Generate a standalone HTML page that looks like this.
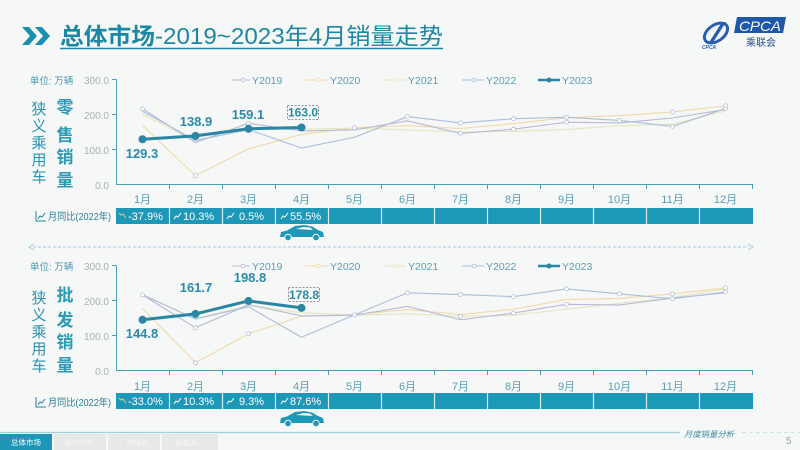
<!DOCTYPE html>
<html><head><meta charset="utf-8"><style>
html,body{margin:0;padding:0;background:#f6f7f7;}
svg{display:block;}
text{font-family:"Liberation Sans","Noto Sans CJK SC",sans-serif;}
</style></head><body>
<svg width="800" height="450" viewBox="0 0 800 450" xmlns="http://www.w3.org/2000/svg">
<rect width="800" height="450" fill="#f6f7f7"/>

<!-- Title -->
<polygon points="22,27 29,27 37,36 29,45 22,45 30,36" fill="#1b8fae"/>
<polygon points="35,27 42,27 50,36 42,45 35,45 43,36" fill="#1b8fae"/>
<text x="60" y="44" font-size="23" font-weight="bold" fill="#1b87a3" textLength="95" lengthAdjust="spacingAndGlyphs">总体市场</text>
<text x="155" y="44" font-size="23" fill="#1b87a3" textLength="288" lengthAdjust="spacingAndGlyphs">-2019~2023年4月销量走势</text>
<line x1="60" y1="48.5" x2="443" y2="48.5" stroke="#1b87a3" stroke-width="1.5"/>

<!-- Logo -->
<ellipse cx="716" cy="33" rx="13" ry="8" fill="none" stroke="#2a5fb0" stroke-width="3" transform="rotate(-35 716 33)"/>
<path d="M708 44 L722 22 L726 22 L712 44 Z" fill="#2a5fb0"/>
<text x="702" y="49" font-size="5" font-weight="bold" font-style="italic" fill="#2a5fb0">CPCA</text>
<polygon points="737,17 786,17 783,33 734,33" fill="#1e56a8"/>
<text x="739" y="31" font-size="14" font-style="italic" fill="#ffffff" textLength="42" lengthAdjust="spacingAndGlyphs">CPCA</text>
<text x="746" y="46" font-size="10" fill="#2a4f8c" textLength="30" lengthAdjust="spacing">乘联会</text>

<!-- ========== TOP CHART ========== -->
<text x="30" y="84" font-size="9.5" fill="#4a9ab2">单位: 万辆</text>
<g font-size="10" fill="#a9b1b4" text-anchor="end">
<text x="109" y="84">300.0</text><text x="109" y="119">200.0</text><text x="109" y="154">100.0</text><text x="109" y="189">0.0</text>
</g>
<g font-size="15" fill="#2a94b0" text-anchor="middle">
<text x="39" y="114">狭</text><text x="39" y="131">义</text><text x="39" y="148">乘</text><text x="39" y="165">用</text><text x="39" y="182">车</text>
</g>
<g font-size="17" font-weight="bold" fill="#2a9ab5" text-anchor="middle">
<text x="65" y="113">零</text><text x="65" y="141">售</text><text x="65" y="163">销</text><text x="65" y="186">量</text>
</g>
<!-- axes -->
<g stroke="#4ba0b6" stroke-width="1">
<line x1="116.5" y1="79.5" x2="116.5" y2="185"/>
<line x1="112" y1="79.5" x2="116.5" y2="79.5"/><line x1="112" y1="114.5" x2="116.5" y2="114.5"/><line x1="112" y1="149.5" x2="116.5" y2="149.5"/>
<line x1="116" y1="184.5" x2="753" y2="184.5"/>
<line x1="169.5" y1="184.5" x2="169.5" y2="189"/><line x1="222.5" y1="184.5" x2="222.5" y2="189"/><line x1="275.5" y1="184.5" x2="275.5" y2="189"/><line x1="328.5" y1="184.5" x2="328.5" y2="189"/><line x1="381.5" y1="184.5" x2="381.5" y2="189"/><line x1="434.5" y1="184.5" x2="434.5" y2="189"/><line x1="487.5" y1="184.5" x2="487.5" y2="189"/><line x1="540.5" y1="184.5" x2="540.5" y2="189"/><line x1="593.5" y1="184.5" x2="593.5" y2="189"/><line x1="646.5" y1="184.5" x2="646.5" y2="189"/><line x1="699.5" y1="184.5" x2="699.5" y2="189"/><line x1="752.5" y1="184.5" x2="752.5" y2="189"/>
</g>
<g font-size="11" fill="#5a9fb5" text-anchor="middle">
<text x="142.5" y="203">1月</text><text x="195.5" y="203">2月</text><text x="248.5" y="203">3月</text><text x="301.5" y="203">4月</text><text x="354.5" y="203">5月</text><text x="407.5" y="203">6月</text><text x="460.5" y="203">7月</text><text x="513.5" y="203">8月</text><text x="566.5" y="203">9月</text><text x="619.5" y="203">10月</text><text x="672.5" y="203">11月</text><text x="725.5" y="203">12月</text>
</g>
<!-- series -->
<g fill="none" stroke-width="1.1">
<polyline stroke="#f2d9a6" points="142.5,125.35 195.5,175.75 248.5,148.8 301.5,134.45 354.5,127.8 407.5,125.7 460.5,128.5 513.5,123.6 566.5,117.65 619.5,115.55 672.5,112.05 725.5,105.75"/>
<polyline stroke="#e3e6bd" points="142.5,114.5 195.5,140.75 248.5,129.55 301.5,129.2 354.5,128.15 407.5,129.9 460.5,132 513.5,131.3 566.5,129.55 619.5,125.7 672.5,124.3 725.5,111"/>
<polyline stroke="#b9b8d6" points="142.5,108.9 195.5,142.5 248.5,123.25 301.5,130.95 354.5,129.9 407.5,120.8 460.5,133.4 513.5,129.2 566.5,122.2 619.5,122.9 672.5,118 725.5,109.6"/>
<polyline stroke="#a9bfdb" points="142.5,111.35 195.5,140.4 248.5,129.55 301.5,148.1 354.5,137.25 407.5,116.6 460.5,122.9 513.5,118.7 566.5,117.3 619.5,120.45 672.5,126.4 725.5,108.55"/>
</g>
<g fill="#fff" stroke="#b6bfd6" stroke-width="0.8">
<circle cx="354.5" cy="127.8" r="2"/><circle cx="407.5" cy="116.6" r="2"/><circle cx="460.5" cy="122.9" r="2"/><circle cx="513.5" cy="118.7" r="2"/><circle cx="566.5" cy="117.3" r="2"/><circle cx="619.5" cy="120.45" r="2"/><circle cx="672.5" cy="126.4" r="2"/><circle cx="725.5" cy="108.55" r="2"/><circle cx="725.5" cy="105.75" r="2"/><circle cx="460.5" cy="133.4" r="2"/><circle cx="513.5" cy="129.2" r="2"/><circle cx="566.5" cy="122.2" r="2"/><circle cx="672.5" cy="112.05" r="2"/><circle cx="248.5" cy="123.25" r="2"/><circle cx="142.5" cy="108.9" r="2"/><circle cx="195.5" cy="175.75" r="2"/>
</g>
<polyline fill="none" stroke="#2a87a4" stroke-width="3" points="142.5,139.25 195.5,135.9 248.5,128.8 301.5,127.45"/>
<g fill="#2a87a4"><circle cx="142.5" cy="139.25" r="4"/><circle cx="195.5" cy="135.9" r="4"/><circle cx="248.5" cy="128.8" r="4"/><circle cx="301.5" cy="127.45" r="4"/></g>
<g font-size="13" font-weight="bold" fill="#2b8ba8" text-anchor="middle">
<text x="142" y="158">129.3</text><text x="196" y="126">138.9</text><text x="248" y="119">159.1</text>
</g>
<text x="303" y="116.5" font-size="12" font-weight="bold" fill="#2b8ba8" text-anchor="middle">163.0</text>
<rect x="287.5" y="105.5" width="31" height="14" fill="none" stroke="#777" stroke-width="0.8" stroke-dasharray="2,1.5"/>
<!-- legend -->
<g font-size="10.5" fill="#5a9fb5">
<line x1="232" y1="80" x2="250" y2="80" stroke="#b9b8d6"/><circle cx="243" cy="80" r="1.8" fill="#fff" stroke="#b9b8d6" stroke-width="0.8"/><text x="252" y="84">Y2019</text>
<line x1="305" y1="80" x2="328" y2="80" stroke="#f2d9a6"/><circle cx="318" cy="80" r="1.8" fill="#fff" stroke="#f2d9a6" stroke-width="0.8"/><text x="330" y="84">Y2020</text>
<line x1="385" y1="80" x2="406" y2="80" stroke="#e3e6bd"/><circle cx="397" cy="80" r="1.8" fill="#fff" stroke="#e3e6bd" stroke-width="0.8"/><text x="408" y="84">Y2021</text>
<line x1="462" y1="80" x2="484" y2="80" stroke="#a9bfdb"/><circle cx="474" cy="80" r="1.8" fill="#fff" stroke="#a9bfdb" stroke-width="0.8"/><text x="486" y="84">Y2022</text>
<line x1="538" y1="80" x2="560" y2="80" stroke="#2a87a4" stroke-width="2.5"/><circle cx="549" cy="80" r="2.5" fill="#2a87a4"/><text x="562" y="84">Y2023</text>
</g>
<!-- YoY bar -->
<path d="M36 211 V221 H46" fill="none" stroke="#2a7f9a" stroke-width="1"/>
<polyline points="38,219 40,216 42,217 45,213" fill="none" stroke="#2a7f9a" stroke-width="1"/>
<text x="48" y="220" font-size="10" fill="#2a7f9a" textLength="63" lengthAdjust="spacingAndGlyphs">月同比(2022年)</text>
<rect x="116" y="208" width="637" height="16" fill="#1e98b8"/>
<g stroke="#d8f0f6" stroke-width="1.2">
<line x1="169.5" y1="208" x2="169.5" y2="224"/><line x1="222.5" y1="208" x2="222.5" y2="224"/><line x1="275.5" y1="208" x2="275.5" y2="224"/><line x1="328.5" y1="208" x2="328.5" y2="224"/><line x1="381.5" y1="208" x2="381.5" y2="224"/><line x1="434.5" y1="208" x2="434.5" y2="224"/><line x1="487.5" y1="208" x2="487.5" y2="224"/><line x1="540.5" y1="208" x2="540.5" y2="224"/><line x1="593.5" y1="208" x2="593.5" y2="224"/><line x1="646.5" y1="208" x2="646.5" y2="224"/><line x1="699.5" y1="208" x2="699.5" y2="224"/>
</g>
<polyline points="119,213 121,215 123,214 126,218" fill="none" stroke="#e9c77a" stroke-width="1"/>
<g fill="none" stroke="#fff" stroke-width="1"><polyline points="174,219 176,216 178,217 181,213"/><polyline points="227,219 229,216 231,217 234,213"/><polyline points="281,219 283,216 285,217 288,213"/></g>
<g font-size="11" fill="#fff">
<text x="128" y="220">-37.9%</text><text x="183" y="220">10.3%</text><text x="239" y="220">0.5%</text><text x="290" y="220">55.5%</text>
</g>
<!-- car top -->
<g fill="#1e98b8">
<path d="M280 237 L281 232 L287 230.5 L295 226 L304 225 L312 226.5 L318 230 L323 232 L324 237 Z"/>
</g>
<g fill="#f6f7f7"><path d="M296 229 L303 227 L310 227.5 L313 230 Z"/><circle cx="288" cy="237.5" r="3.8"/><circle cx="316" cy="237.5" r="3.8"/></g>
<g fill="#1e98b8"><circle cx="288" cy="237.5" r="2.8"/><circle cx="316" cy="237.5" r="2.8"/></g>

<!-- divider -->
<line x1="33" y1="247" x2="749" y2="247" stroke="#9ccfdc" stroke-width="1" stroke-dasharray="3,2"/>
<polyline points="34,244 29,247 34,250" fill="none" stroke="#9ccfdc" stroke-width="1"/>
<polyline points="748,244 753,247 748,250" fill="none" stroke="#9ccfdc" stroke-width="1"/>

<!-- ========== BOTTOM CHART ========== -->
<text x="30" y="270" font-size="9.5" fill="#4a9ab2">单位: 万辆</text>
<g font-size="10" fill="#a9b1b4" text-anchor="end">
<text x="109" y="270">300.0</text><text x="109" y="305">200.0</text><text x="109" y="340">100.0</text><text x="109" y="375">0.0</text>
</g>
<g font-size="15" fill="#2a94b0" text-anchor="middle">
<text x="39" y="303">狭</text><text x="39" y="320">义</text><text x="39" y="337">乘</text><text x="39" y="354">用</text><text x="39" y="371">车</text>
</g>
<g font-size="17" font-weight="bold" fill="#2a9ab5" text-anchor="middle">
<text x="65" y="301">批</text><text x="65" y="326">发</text><text x="65" y="348">销</text><text x="65" y="371">量</text>
</g>
<g stroke="#4ba0b6" stroke-width="1">
<line x1="116.5" y1="265.5" x2="116.5" y2="371"/>
<line x1="112" y1="265.5" x2="116.5" y2="265.5"/><line x1="112" y1="300.5" x2="116.5" y2="300.5"/><line x1="112" y1="335.5" x2="116.5" y2="335.5"/>
<line x1="116" y1="370.5" x2="753" y2="370.5"/>
<line x1="169.5" y1="370.5" x2="169.5" y2="375"/><line x1="222.5" y1="370.5" x2="222.5" y2="375"/><line x1="275.5" y1="370.5" x2="275.5" y2="375"/><line x1="328.5" y1="370.5" x2="328.5" y2="375"/><line x1="381.5" y1="370.5" x2="381.5" y2="375"/><line x1="434.5" y1="370.5" x2="434.5" y2="375"/><line x1="487.5" y1="370.5" x2="487.5" y2="375"/><line x1="540.5" y1="370.5" x2="540.5" y2="375"/><line x1="593.5" y1="370.5" x2="593.5" y2="375"/><line x1="646.5" y1="370.5" x2="646.5" y2="375"/><line x1="699.5" y1="370.5" x2="699.5" y2="375"/><line x1="752.5" y1="370.5" x2="752.5" y2="375"/>
</g>
<g font-size="11" fill="#5a9fb5" text-anchor="middle">
<text x="142.5" y="390">1月</text><text x="195.5" y="390">2月</text><text x="248.5" y="390">3月</text><text x="301.5" y="390">4月</text><text x="354.5" y="390">5月</text><text x="407.5" y="390">6月</text><text x="460.5" y="390">7月</text><text x="513.5" y="390">8月</text><text x="566.5" y="390">9月</text><text x="619.5" y="390">10月</text><text x="672.5" y="390">11月</text><text x="725.5" y="390">12月</text>
</g>
<g fill="none" stroke-width="1.1">
<polyline stroke="#f2d9a6" points="142.5,308.2 195.5,362.8 248.5,333.75 301.5,316.25 354.5,314.5 407.5,309.6 460.5,314.5 513.5,309.25 566.5,299.45 619.5,298.4 672.5,293.85 725.5,287.9"/>
<polyline stroke="#e3e6bd" points="142.5,294.55 195.5,318.7 248.5,305.4 301.5,312.75 354.5,315.2 407.5,313.8 460.5,316.25 513.5,315.2 566.5,309.25 619.5,303.3 672.5,297.7 725.5,288.95"/>
<polyline stroke="#b9b8d6" points="142.5,294.9 195.5,327.8 248.5,304.7 301.5,315.9 354.5,315.2 407.5,306.45 460.5,319.75 513.5,313.1 566.5,304.35 619.5,305.05 672.5,298.05 725.5,292.8"/>
<polyline stroke="#a9bfdb" points="142.5,294.9 195.5,319.05 248.5,306.8 301.5,337.25 354.5,314.85 407.5,292.8 460.5,294.55 513.5,296.65 566.5,288.95 619.5,293.85 672.5,298.75 725.5,292.1"/>
</g>
<g fill="#fff" stroke="#b6bfd6" stroke-width="0.8">
<circle cx="354.5" cy="314.85" r="2"/><circle cx="407.5" cy="292.8" r="2"/><circle cx="460.5" cy="294.55" r="2"/><circle cx="513.5" cy="296.65" r="2"/><circle cx="566.5" cy="288.95" r="2"/><circle cx="619.5" cy="293.85" r="2"/><circle cx="672.5" cy="298.75" r="2"/><circle cx="725.5" cy="292.1" r="2"/><circle cx="725.5" cy="287.9" r="2"/><circle cx="460.5" cy="316.25" r="2"/><circle cx="513.5" cy="313.1" r="2"/><circle cx="566.5" cy="304.35" r="2"/><circle cx="672.5" cy="293.85" r="2"/><circle cx="195.5" cy="327.8" r="2"/><circle cx="142.5" cy="294.9" r="2"/><circle cx="195.5" cy="362.8" r="2"/><circle cx="248.5" cy="333.75" r="2"/>
</g>
<polyline fill="none" stroke="#2a87a4" stroke-width="3" points="142.5,319.8 195.5,313.9 248.5,300.9 301.5,307.9"/>
<g fill="#2a87a4"><circle cx="142.5" cy="319.8" r="4"/><circle cx="195.5" cy="313.9" r="4"/><circle cx="248.5" cy="300.9" r="4"/><circle cx="301.5" cy="307.9" r="4"/></g>
<g font-size="13" font-weight="bold" fill="#2b8ba8" text-anchor="middle">
<text x="142" y="338">144.8</text><text x="196" y="292">161.7</text><text x="250" y="282">198.8</text>
</g>
<text x="304" y="299" font-size="12" font-weight="bold" fill="#2b8ba8" text-anchor="middle">178.8</text>
<rect x="288.5" y="287.5" width="31" height="14" fill="none" stroke="#777" stroke-width="0.8" stroke-dasharray="2,1.5"/>
<g font-size="10.5" fill="#5a9fb5">
<line x1="232" y1="266" x2="250" y2="266" stroke="#b9b8d6"/><circle cx="243" cy="266" r="1.8" fill="#fff" stroke="#b9b8d6" stroke-width="0.8"/><text x="252" y="270">Y2019</text>
<line x1="305" y1="266" x2="328" y2="266" stroke="#f2d9a6"/><circle cx="318" cy="266" r="1.8" fill="#fff" stroke="#f2d9a6" stroke-width="0.8"/><text x="330" y="270">Y2020</text>
<line x1="385" y1="266" x2="406" y2="266" stroke="#e3e6bd"/><circle cx="397" cy="266" r="1.8" fill="#fff" stroke="#e3e6bd" stroke-width="0.8"/><text x="408" y="270">Y2021</text>
<line x1="462" y1="266" x2="484" y2="266" stroke="#a9bfdb"/><circle cx="474" cy="266" r="1.8" fill="#fff" stroke="#a9bfdb" stroke-width="0.8"/><text x="486" y="270">Y2022</text>
<line x1="538" y1="266" x2="560" y2="266" stroke="#2a87a4" stroke-width="2.5"/><circle cx="549" cy="266" r="2.5" fill="#2a87a4"/><text x="562" y="270">Y2023</text>
</g>
<path d="M36 397 V407 H46" fill="none" stroke="#2a7f9a" stroke-width="1"/>
<polyline points="38,405 40,402 42,403 45,399" fill="none" stroke="#2a7f9a" stroke-width="1"/>
<text x="48" y="406" font-size="10" fill="#2a7f9a" textLength="63" lengthAdjust="spacingAndGlyphs">月同比(2022年)</text>
<rect x="116" y="393" width="637" height="16" fill="#1e98b8"/>
<g stroke="#d8f0f6" stroke-width="1.2">
<line x1="169.5" y1="393" x2="169.5" y2="409"/><line x1="222.5" y1="393" x2="222.5" y2="409"/><line x1="275.5" y1="393" x2="275.5" y2="409"/><line x1="328.5" y1="393" x2="328.5" y2="409"/><line x1="381.5" y1="393" x2="381.5" y2="409"/><line x1="434.5" y1="393" x2="434.5" y2="409"/><line x1="487.5" y1="393" x2="487.5" y2="409"/><line x1="540.5" y1="393" x2="540.5" y2="409"/><line x1="593.5" y1="393" x2="593.5" y2="409"/><line x1="646.5" y1="393" x2="646.5" y2="409"/><line x1="699.5" y1="393" x2="699.5" y2="409"/>
</g>
<polyline points="119,398 121,400 123,399 126,403" fill="none" stroke="#e9c77a" stroke-width="1"/>
<g fill="none" stroke="#fff" stroke-width="1"><polyline points="174,404 176,401 178,402 181,398"/><polyline points="227,404 229,401 231,402 234,398"/><polyline points="281,404 283,401 285,402 288,398"/></g>
<g font-size="11" fill="#fff">
<text x="128" y="405">-33.0%</text><text x="183" y="405">10.3%</text><text x="239" y="405">9.3%</text><text x="290" y="405">87.6%</text>
</g>
<g fill="#1e98b8">
<path d="M280 423 L281 418 L287 416.5 L295 412 L304 411 L312 412.5 L318 416 L323 418 L324 423 Z"/>
</g>
<g fill="#f6f7f7"><path d="M296 415 L303 413 L310 413.5 L313 416 Z"/><circle cx="288" cy="423.5" r="3.8"/><circle cx="316" cy="423.5" r="3.8"/></g>
<g fill="#1e98b8"><circle cx="288" cy="423.5" r="2.8"/><circle cx="316" cy="423.5" r="2.8"/></g>

<!-- footer -->
<line x1="0" y1="432.5" x2="680" y2="432.5" stroke="#9fcfdb" stroke-width="1.2"/>
<text x="684" y="437" font-size="8" font-style="italic" fill="#3d8aa3" textLength="50" lengthAdjust="spacingAndGlyphs">月度销量分析</text>
<line x1="742" y1="432.5" x2="800" y2="432.5" stroke="#c8e4ec" stroke-width="1" stroke-dasharray="4,3"/>
<rect x="0" y="434" width="52" height="16" fill="#1e96b6"/>
<text x="11" y="445" font-size="7.5" fill="#fff">总体市场</text>
<rect x="54" y="434" width="52" height="16" fill="#e6e8ea"/>
<text x="64" y="445" font-size="7" fill="#f5f6f7">细分市场</text>
<rect x="108" y="434" width="52" height="16" fill="#e6e8ea"/>
<text x="120" y="445" font-size="7" fill="#f5f6f7">厂商排名</text>
<rect x="162" y="434" width="56" height="16" fill="#e6e8ea"/>
<text x="176" y="445" font-size="7" fill="#f5f6f7">新能源</text>
<text x="786" y="444" font-size="10" fill="#9aa3a6">5</text>
</svg>
</body></html>
